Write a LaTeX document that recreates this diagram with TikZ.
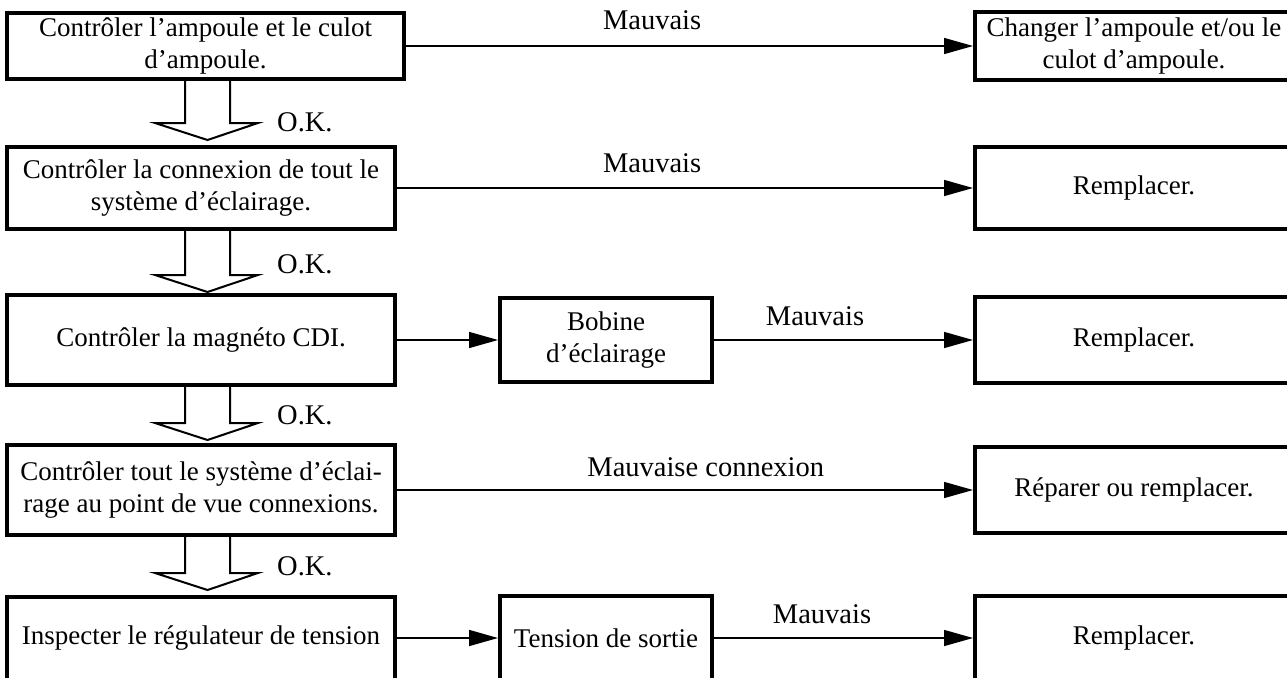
\documentclass[tikz,border=0pt]{standalone}
\usepackage{fontspec}
\setmainfont{Liberation Serif}
\usetikzlibrary{arrows.meta}
\begin{document}
\begin{tikzpicture}[x=1pt,y=-1pt,
  box/.style={draw, line width=4pt, align=center, inner sep=0pt,
    font=\fontsize{27}{31.5}\selectfont},
  lbl/.style={inner sep=0pt, font=\fontsize{28.5}{32}\selectfont},
  conn/.style={line width=1.5pt, -{Triangle[length=29pt,width=16pt]}},
  okarrow/.pic={\draw[line width=2pt, line join=miter]
    (-22.5,0) -- (-22.5,#1) -- (-52.5,#1) -- (0,#1+17) -- (50.5,#1) -- (22.5,#1) -- (22.5,0);}
]
\useasboundingbox (0,0) rectangle (1287,677);
\coordinate (ax) at (207.5,0);

% left column
\node[box, minimum width=397pt, minimum height=66pt] (b1) at (205.5,46)
  {Contrôler l’ampoule et le culot\\d’ampoule.};
\node[box, minimum width=388pt, minimum height=82pt] (b2) at (201,188)
  {Contrôler la connexion de tout le\\système d’éclairage.};
\node[box, minimum width=388pt, minimum height=90pt] (b3) at (201,340)
  {Contrôler la magnéto CDI.};
\node[box, minimum width=388pt, minimum height=90pt] (b4) at (201,490)
  {Contrôler tout le système d’éclai-\\rage au point de vue connexions.};
\node[box, minimum width=388pt, minimum height=83pt] (b5) at (201,638)
  {Inspecter le régulateur de tension};

% middle column
\node[box, minimum width=212pt, minimum height=84pt] (m3) at (606,340)
  {Bobine\\d’éclairage};
\node[box, minimum width=212pt, minimum height=84pt] (m5) at (606,638)
  {Tension de sortie};

% right column
\node[box, minimum width=318pt, minimum height=68pt] (r1) at (1134,46)
  {Changer l’ampoule et/ou le\\culot d’ampoule.};
\node[box, minimum width=318pt, minimum height=82pt] (r2) at (1134,188)
  {Remplacer.};
\node[box, minimum width=318pt, minimum height=86pt] (r3) at (1134,340)
  {Remplacer.};
\node[box, minimum width=318pt, minimum height=86pt] (r4) at (1134,490)
  {Réparer ou remplacer.};
\node[box, minimum width=318pt, minimum height=84pt] (r5) at (1134,638)
  {Remplacer.};

% horizontal connectors
\draw[conn] (b1.east) -- node[lbl, above=15pt, pos=0.434] (l1) {Mauvais} (r1.west);
\draw[conn] (b2.east) -- node[lbl, above=14pt, pos=0.443] (l2) {Mauvais} (r2.west);
\draw[conn] (b3.east) -- (m3.west);
\draw[conn] (m3.east) -- node[lbl, above=13pt, pos=0.39] (l3) {Mauvais} (r3.west);
\draw[conn] (b4.east) -- node[lbl, above=12pt, pos=0.536] (l4) {Mauvaise connexion} (r4.west);
\draw[conn] (b5.east) -- (m5.west);
\draw[conn] (m5.east) -- node[lbl, above=13pt, pos=0.417] (l5) {Mauvais} (r5.west);

% block arrows
\pic at (b1.south -| ax) {okarrow=42};
\pic at (b2.south -| ax) {okarrow=44};
\pic at (b3.south -| ax) {okarrow=36};
\pic at (b4.south -| ax) {okarrow=36};

\node[lbl, anchor=west] (ok1) at (277,122) {O.K.};
\node[lbl, anchor=west] (ok2) at (277,264) {O.K.};
\node[lbl, anchor=west] (ok3) at (277,415) {O.K.};
\node[lbl, anchor=west] (ok4) at (277,566) {O.K.};
\end{tikzpicture}
\end{document}
